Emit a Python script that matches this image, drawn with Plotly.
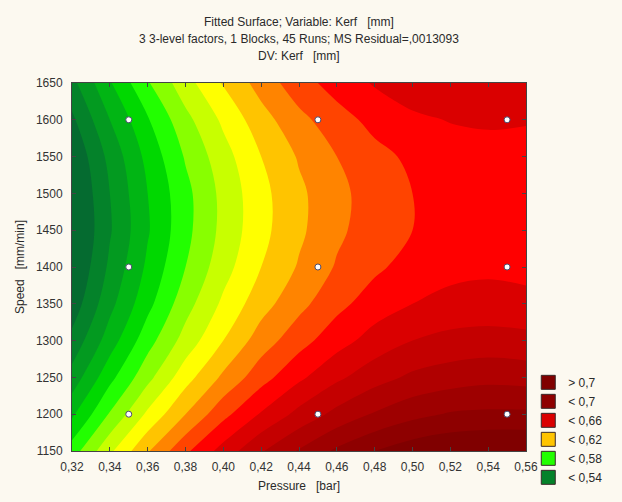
import plotly.graph_objects as go

# ---- data ----
pressure = [0.32, 0.34, 0.36, 0.38, 0.40, 0.42, 0.44, 0.46, 0.48, 0.50, 0.52, 0.54, 0.56]
speed = [1150, 1200, 1250, 1300, 1350, 1400, 1450, 1500, 1550, 1600, 1650]

# fitted Kerf [mm] on the grid (rows = speed, columns = pressure)
kerf_1150 = [0.575, 0.598, 0.619, 0.638, 0.654, 0.669, 0.681, 0.692, 0.700, 0.706, 0.709, 0.711, 0.711]
kerf_1200 = [0.558, 0.581, 0.602, 0.620, 0.637, 0.651, 0.663, 0.673, 0.681, 0.687, 0.691, 0.692, 0.692]
kerf_1250 = [0.544, 0.567, 0.587, 0.606, 0.622, 0.636, 0.648, 0.658, 0.666, 0.672, 0.675, 0.677, 0.676]
kerf_1300 = [0.533, 0.555, 0.576, 0.594, 0.610, 0.625, 0.636, 0.646, 0.654, 0.660, 0.663, 0.664, 0.663]
kerf_1350 = [0.524, 0.547, 0.567, 0.586, 0.602, 0.616, 0.627, 0.637, 0.645, 0.650, 0.653, 0.654, 0.653]
kerf_1400 = [0.519, 0.542, 0.562, 0.580, 0.596, 0.610, 0.621, 0.631, 0.638, 0.644, 0.647, 0.648, 0.647]
kerf_1450 = [0.517, 0.539, 0.559, 0.577, 0.593, 0.607, 0.618, 0.628, 0.635, 0.640, 0.643, 0.644, 0.643]
kerf_1500 = [0.518, 0.540, 0.560, 0.577, 0.593, 0.607, 0.618, 0.627, 0.635, 0.640, 0.642, 0.643, 0.642]
kerf_1550 = [0.521, 0.543, 0.563, 0.581, 0.596, 0.610, 0.621, 0.630, 0.637, 0.642, 0.645, 0.646, 0.645]
kerf_1600 = [0.528, 0.550, 0.569, 0.587, 0.602, 0.616, 0.627, 0.636, 0.643, 0.648, 0.6505, 0.6515, 0.651]
kerf_1650 = [0.537, 0.559, 0.579, 0.596, 0.611, 0.624, 0.636, 0.644, 0.651, 0.656, 0.658, 0.659, 0.658]

# design points (runs)
run_pressure = [0.35, 0.35, 0.35, 0.45, 0.45, 0.45, 0.55, 0.55, 0.55]
run_speed = [1200, 1400, 1600, 1200, 1400, 1600, 1200, 1400, 1600]

x_tick_labels = ["0,32", "0,34", "0,36", "0,38", "0,40", "0,42", "0,44",
                 "0,46", "0,48", "0,50", "0,52", "0,54", "0,56"]
y_ticks = [1150, 1200, 1250, 1300, 1350, 1400, 1450, 1500, 1550, 1600, 1650]

legend_labels = ["> 0,7", "< 0,7", "< 0,66", "< 0,62", "< 0,58", "< 0,54"]

title_lines = ["Fitted Surface; Variable: Kerf\u00a0\u00a0 [mm]",
               "3 3-level factors, 1 Blocks, 45 Runs; MS Residual=,0013093",
               "DV: Kerf\u00a0\u00a0 [mm]"]

# ---- styling ----
band_colors = ["#056B30", "#04822A", "#039A20", "#01B514", "#00D800", "#22FF00",
               "#88FF00", "#C8FF00", "#FFFF00", "#FFC400", "#FF8400", "#FF4400",
               "#FF0000", "#DA0000", "#C40000", "#B00000", "#9E0000", "#8E0000",
               "#800000"]
legend_colors = [band_colors[18], band_colors[17], band_colors[13],
                 band_colors[9], band_colors[5], band_colors[1]]

z = [kerf_1150, kerf_1200, kerf_1250, kerf_1300, kerf_1350, kerf_1400,
     kerf_1450, kerf_1500, kerf_1550, kerf_1600, kerf_1650]

n = len(band_colors) - 1
colorscale = [[i / n, c] for i, c in enumerate(band_colors)]

bg = "#FCF9F0"
font_family = "Liberation Sans, Arial, sans-serif"
text_color = "#2A2A2A"

fig = go.Figure()
fig.add_trace(go.Contour(
    x=pressure, y=speed, z=z,
    colorscale=colorscale,
    autocontour=False,
    contours=dict(start=0.53, end=0.70, size=0.01, coloring="fill", showlines=False),
    line=dict(width=0, smoothing=1.0),
    showscale=False,
    showlegend=False,
    hoverinfo="skip",
))

fig.add_trace(go.Scatter(
    x=run_pressure, y=run_speed, mode="markers",
    marker=dict(symbol="circle", size=6, color="white",
                line=dict(color="#4B4B6E", width=1)),
    showlegend=False, hoverinfo="skip",
))

for lab, col in zip(legend_labels, legend_colors):
    fig.add_trace(go.Scatter(
        x=[None], y=[None], mode="markers", name=lab,
        marker=dict(symbol="square", size=14, color=col,
                    line=dict(color="#3A2A2A", width=1)),
        showlegend=True,
    ))

title_y = [1.165, 1.119, 1.073]
for txt, ty in zip(title_lines, title_y):
    fig.add_annotation(text=txt, xref="paper", yref="paper", x=0.5, y=ty,
                       xanchor="center", yanchor="middle", showarrow=False,
                       font=dict(family=font_family, size=12, color=text_color))

fig.update_layout(
    width=622, height=502,
    margin=dict(l=72, r=96, t=83, b=51, autoexpand=False),
    paper_bgcolor=bg, plot_bgcolor=bg,
    font=dict(family=font_family, size=12, color=text_color),
    xaxis=dict(
        range=[0.32, 0.56], tickvals=pressure, ticktext=x_tick_labels,
        ticks="inside", ticklen=4, tickcolor="#444", showgrid=False, zeroline=False,
        showline=True, linecolor="#444", linewidth=1, mirror="ticks",
        tickfont=dict(size=12, color="#333"), ticklabelstandoff=5,
        automargin=False,
        title=dict(text="Pressure\u00a0\u00a0 [bar]", standoff=8,
                   font=dict(size=12, color=text_color)),
    ),
    yaxis=dict(
        range=[1150, 1650], tickvals=y_ticks,
        ticks="inside", ticklen=4, tickcolor="#444", showgrid=False, zeroline=False,
        showline=True, linecolor="#444", linewidth=1, mirror="ticks",
        tickfont=dict(size=12, color="#333"), ticklabelstandoff=6,
        automargin=False,
        title=dict(text="Speed\u00a0\u00a0 [mm/min]", standoff=8,
                   font=dict(size=12, color=text_color)),
    ),
    legend=dict(
        x=1.005, xanchor="left", y=0.226, yanchor="top",
        bgcolor="rgba(0,0,0,0)", font=dict(size=12, color=text_color),
        itemsizing="trace", tracegroupgap=0,
    ),
)

fig.write_html("out.html")
